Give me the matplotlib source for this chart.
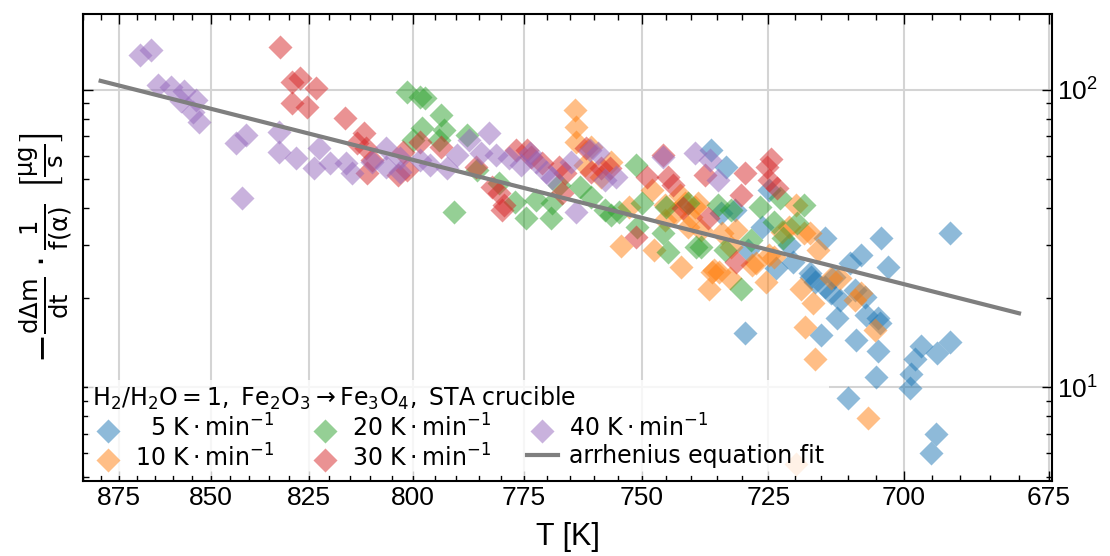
import numpy as np
import matplotlib
matplotlib.use('Agg')
import matplotlib.pyplot as plt
from matplotlib.ticker import MultipleLocator, FormatStrFormatter

plt.rcParams['font.family'] = ['Liberation Sans', 'DejaVu Sans']
plt.rcParams['mathtext.fontset'] = 'dejavusans'

# heating rate 5 K/min
T_5 = [736.2, 733.2, 734.2, 731.5, 728.8, 726.2, 724.8, 723.5, 721.1, 720.2, 717.1, 716.9, 716.1, 714.3, 714.3,
       713.2, 712.0, 711.6, 709.6, 708.8, 707.7, 707.0, 706.8, 704.6, 704.2, 704.0, 702.8, 708.6, 704.6, 705.0,
       710.1, 729.4, 715.0, 698.8, 698.6, 697.9, 696.9, 694.0, 691.9, 694.3, 695.2, 691.9, 712.6]
V_5 = [62.8, 55.0, 38.5, 39.5, 28.9, 34.6, 46.1, 25.2, 30.1, 26.4, 24.2, 23.5, 22.6, 21.7, 31.8,
       20.7, 17.1, 19.6, 26.2, 21.2, 27.8, 20.1, 17.5, 17.1, 16.4, 31.8, 25.4, 14.4, 13.3, 10.8,
       9.18, 15.2, 15.0, 9.93, 11.1, 12.5, 13.8, 13.1, 14.2, 7.00, 6.00, 33.0, 23.5]

# 10 K/min
T_10 = [763.9, 763.7, 763.7, 760.5, 761.8, 758.4, 756.3, 754.2, 752.7, 747.6, 745.2, 743.2, 741.3, 748.0, 742.3,
        740.0, 742.1, 740.6, 739.2, 738.6, 738.0, 736.0, 736.6, 735.6, 734.6, 734.0, 732.1, 732.3, 731.3, 728.1,
        727.3, 725.4, 723.9, 724.8, 722.4, 721.1, 719.8, 718.3, 717.0, 715.6, 718.7, 716.5, 718.0, 716.1, 713.2,
        711.5, 708.8, 707.7, 705.1, 706.4, 719.8, 745.2]
V_10 = [85.7, 75.0, 66.8, 64.3, 55.9, 50.9, 57.2, 29.9, 40.4, 28.9, 36.5, 38.5, 41.7, 46.1, 44.3,
        37.3, 25.4, 34.6, 40.4, 41.7, 33.8, 24.4, 21.5, 24.8, 24.4, 33.0, 29.6, 23.3, 33.8, 25.8,
        26.2, 22.6, 27.4, 27.8, 33.3, 34.6, 41.0, 33.0, 33.0, 28.9, 21.5, 19.2, 15.9, 12.5, 23.4,
        23.3, 19.6, 20.7, 15.6, 7.87, 5.55, 41.0]

# 20 K/min
T_20 = [801.4, 798.4, 797.3, 793.5, 797.9, 800.0, 792.8, 793.9, 787.6, 790.5, 785.4, 780.4, 777.0, 774.4, 769.1,
        768.9, 772.3, 767.4, 762.8, 760.5, 757.6, 756.3, 754.8, 751.3, 750.0, 751.1, 745.0, 745.6, 744.6, 740.6,
        739.0, 738.0, 733.3, 732.1, 730.3, 726.6, 723.9, 722.2, 719.5, 718.2, 722.8, 734.8, 728.3]
V_20 = [98.5, 94.7, 94.0, 82.4, 74.5, 67.9, 73.3, 67.9, 70.5, 38.8, 53.8, 48.7, 42.0, 37.1, 37.1,
        41.7, 42.6, 47.9, 47.1, 43.6, 39.5, 38.0, 38.8, 55.9, 41.7, 34.6, 40.4, 33.0, 28.5, 41.7,
        29.6, 29.6, 28.9, 39.5, 21.5, 40.4, 36.0, 31.8, 35.7, 41.0, 43.3, 41.0, 31.3]

# 30 K/min
T_30 = [832.2, 829.1, 827.3, 823.3, 829.3, 825.5, 816.1, 811.6, 813.2, 811.1, 809.6, 810.8, 803.6, 802.4, 801.4,
        798.4, 793.5, 785.6, 782.0, 780.4, 779.3, 779.8, 776.6, 774.2, 773.3, 771.0, 767.4, 766.0, 766.8, 761.6,
        760.5, 758.4, 756.5, 751.3, 749.0, 745.6, 744.6, 743.6, 741.7, 737.3, 736.7, 730.2, 729.4, 731.2, 724.4,
        724.8, 723.3, 725.2]
V_30 = [139.6, 106.4, 109.7, 101.6, 90.4, 87.6, 80.5, 71.6, 66.3, 63.8, 58.1, 52.6, 51.8, 61.8, 53.8,
        66.8, 64.3, 55.0, 47.1, 45.0, 41.0, 39.5, 62.8, 62.8, 59.5, 56.8, 55.0, 52.6, 45.0, 63.8,
        53.0, 54.6, 54.6, 32.0, 50.9, 60.4, 50.9, 47.9, 40.1, 51.8, 37.1, 44.3, 52.6, 26.4, 58.6,
        49.8, 46.8, 55.0]

# 40 K/min
T_40 = [869.1, 866.1, 864.2, 860.7, 857.0, 857.8, 854.0, 854.8, 853.0, 843.4, 840.8, 841.8, 832.4, 832.4, 828.3,
        822.4, 823.6, 819.7, 815.8, 814.4, 809.6, 806.2, 806.2, 803.1, 798.4, 792.1, 789.9, 787.2, 784.5, 782.7,
        781.1, 778.2, 775.5, 773.7, 772.3, 770.2, 768.9, 764.7, 763.7, 760.7, 759.0, 757.6, 755.3, 745.6, 739.3,
        736.4, 734.8, 803.1, 796.1]
V_40 = [131, 136, 104, 102, 99.2, 91.8, 92.5, 84.4, 78.0, 66.3, 70.5, 43.3, 72.2, 61.8, 59.0,
        63.8, 54.6, 56.8, 56.8, 52.6, 57.2, 63.8, 55.0, 59.0, 58.1, 54.6, 60.4, 67.9, 61.4, 71.6,
        60.4, 59.0, 55.9, 61.4, 57.2, 53.0, 50.6, 57.2, 38.8, 62.8, 61.4, 49.8, 50.9, 59.5, 61.4,
        58.1, 49.8, 53.0, 55.9]

# arrhenius fit, end points
T_FIT = [880, 680]
V_FIT = [107.2, 17.75]

SERIES = [
    (T_5, V_5, 'tab:blue', '\u2007' + r'5 $\mathrm{K \cdot min^{-1}}$'),
    (T_10, V_10, 'tab:orange', r'10 $\mathrm{K \cdot min^{-1}}$'),
    (T_20, V_20, 'tab:green', r'20 $\mathrm{K \cdot min^{-1}}$'),
    (T_30, V_30, 'tab:red', r'30 $\mathrm{K \cdot min^{-1}}$'),
    (T_40, V_40, 'tab:purple', r'40 $\mathrm{K \cdot min^{-1}}$'),
]


# x axis is linear in 1/T (arrhenius plot), labelled in T
def fwd(x):
    x = np.asarray(x, dtype=float)
    with np.errstate(divide='ignore', invalid='ignore'):
        return -1000.0 / x


def bwd(y):
    y = np.asarray(y, dtype=float)
    with np.errstate(divide='ignore', invalid='ignore'):
        return -1000.0 / y


fig = plt.figure(figsize=(11.1, 5.56), dpi=100)
ax = fig.add_axes([0.0748, 0.135, 0.8729, 0.84])

for T, V, color, label in SERIES:
    ax.scatter(T, V, s=150, marker='D', color=color, alpha=0.5, linewidths=0, label=label, zorder=3)
ax.plot(T_FIT, V_FIT, color='tab:gray', lw=3, label='arrhenius equation fit', zorder=4)

ax.set_xscale('function', functions=(fwd, bwd))
ax.set_yscale('log')
ax.set_xlim(885, 674.5)
ax.set_ylim(4.85, 180)

ax.xaxis.set_major_locator(MultipleLocator(25))
ax.xaxis.set_minor_locator(MultipleLocator(5))
ax.xaxis.set_major_formatter(FormatStrFormatter('%d'))

ax.grid(True, which='major', color='#d4d4d4', lw=1.5)
ax.set_axisbelow(True)

ax.tick_params(axis='both', which='both', direction='in', top=True, bottom=True,
               left=True, right=True, labelleft=False, labelright=True, labelsize=19, width=1)
ax.tick_params(which='major', length=7)
ax.tick_params(which='minor', length=4)
for sp in ax.spines.values():
    sp.set_linewidth(1.5)

ax.set_xlabel('T [K]', fontsize=22, labelpad=9)
ax.set_ylabel(r'$-\frac{\mathrm{d}\Delta\mathrm{m}}{\mathrm{dt}}\cdot\frac{1}{\mathrm{f(\alpha)}}\ '
              r'\left[\frac{\mathrm{\mu g}}{\mathrm{s}}\right]$', fontsize=25, labelpad=6)

title = r'$\mathrm{H_2/H_2O = 1,\ Fe_2O_3 \rightarrow Fe_3O_4,}$ STA crucible'
leg = ax.legend(loc='lower left', ncol=3, title=title, alignment='left',
                prop={'family': 'DejaVu Sans', 'size': 17},
                title_fontproperties={'family': 'DejaVu Sans', 'size': 17},
                framealpha=0.8, edgecolor='none', fancybox=False, scatterpoints=1,
                borderaxespad=0.2, borderpad=0.2, labelspacing=0.1,
                handlelength=1.3, handletextpad=0.5, columnspacing=1.5)

fig.savefig('out.png', dpi=100)
